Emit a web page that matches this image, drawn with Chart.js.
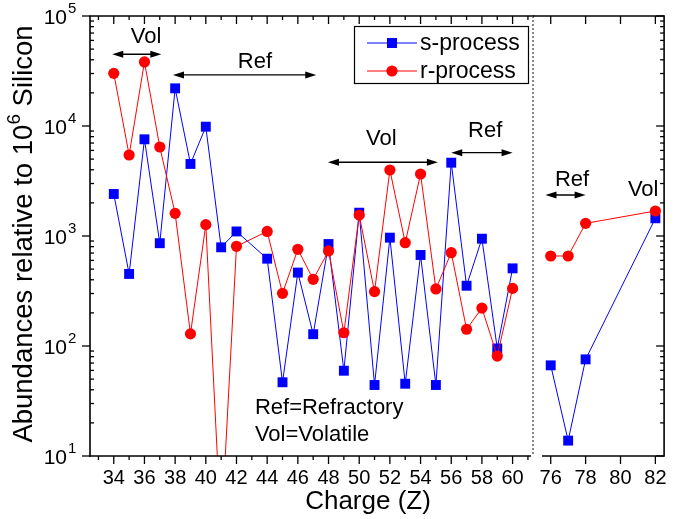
<!DOCTYPE html>
<html>
<head>
<meta charset="utf-8">
<script src="https://cdn.jsdelivr.net/npm/chart.js@4.4.0/dist/chart.umd.min.js"></script>
<style>
  body { margin: 0; background: #fff; }
  #wrap { position: relative; width: 677px; height: 519px; }
  #wrap canvas { position: absolute; left: 0; top: 0; }
</style>
</head>
<body>
<div id="wrap">
  <canvas id="left" width="677" height="519"></canvas>
  <canvas id="right" width="677" height="519"></canvas>
</div>
<script>
// charge numbers and abundances (relative to 10^6 Si)
const zLeft = [34, 35, 36, 37, 38, 39, 40, 41, 42, 44, 45, 46, 47, 48, 49, 50, 51, 52, 53, 54, 55, 56, 57, 58, 59, 60];
const sLeft = [2410, 452, 7570, 860, 22000, 4520, 9860, 789, 1100, 622, 46.8, 465, 128, 845, 59.6, 1629, 44.2, 966, 45.4, 672, 44.2, 4640, 353, 945, 95, 508];
const rLeft = [30100, 5450, 38200, 6440, 1607, 129, 1268, 2, 806, 1100, 301, 757, 404, 731, 132, 1552, 312, 3980, 869, 3660, 330, 705, 142, 221, 81, 334];

const zRight = [76, 77, 78, 82];
const sRight = [66.7, 13.8, 75.6, 1449];
const rRight = [658, 658, 1303, 1688];

const leftTicks = [34, 36, 38, 40, 42, 44, 46, 48, 50, 52, 54, 56, 58, 60];
const rightTicks = [76, 78, 80, 82];
const yDecades = [1, 2, 3, 4, 5];

const seriesNames = ['s-process', 'r-process'];

// Vol / Ref range markers (charge range and height in data units)
const leftArrows = [[33.9, 37.1, 44900], [37.86, 47.2, 29100], [47.96, 55.13, 4680], [56, 60, 5720]];
const leftLabels = [['Vol', 36.1, 64400], ['Ref', 43.2, 38200], ['Vol', 51.44, 7570], ['Ref', 58.21, 9060]];
const rightArrows = [[75.7, 78, 2360]];
const rightLabels = [['Ref', 77.22, 3230], ['Vol', 81.3, 2620]];

const FONT = '"Liberation Sans", Arial, sans-serif';
const BLUE = '#0000ff';
const RED = '#ff0000';

function pts(xs, ys) {
  return xs.map((x, i) => ({x: x, y: ys[i]}));
}

function datasets(xs, s, r) {
  return [
    {label: seriesNames[0], data: pts(xs, s), borderColor: BLUE, backgroundColor: BLUE,
     borderWidth: 1, pointStyle: 'rect', pointRadius: 7, pointBorderWidth: 0, order: 1},
    {label: seriesNames[1], data: pts(xs, r), borderColor: RED, backgroundColor: RED,
     borderWidth: 1, pointStyle: 'circle', pointRadius: 5.6, pointBorderWidth: 0, order: 0}
  ];
}

function arrow(ctx, x1, x2, y) {
  ctx.save();
  ctx.strokeStyle = '#000';
  ctx.fillStyle = '#000';
  ctx.lineWidth = 1.3;
  ctx.beginPath();
  ctx.moveTo(x1 + 4, y);
  ctx.lineTo(x2 - 4, y);
  ctx.stroke();
  [[x1, 1], [x2, -1]].forEach(([x, d]) => {
    ctx.beginPath();
    ctx.moveTo(x, y);
    ctx.lineTo(x + d * 11, y - 3.5);
    ctx.lineTo(x + d * 11, y + 3.5);
    ctx.closePath();
    ctx.fill();
  });
  ctx.restore();
}

function line(ctx, x1, y1, x2, y2) {
  ctx.beginPath();
  ctx.moveTo(x1, y1);
  ctx.lineTo(x2, y2);
  ctx.stroke();
}

function yMinor(yScale, cb) {
  yDecades.slice(0, -1).forEach(e => {
    for (let m = 2; m <= 9; m++) cb(yScale.getPixelForValue(m * Math.pow(10, e)));
  });
}

function notes(ctx, chart, arrows, labels) {
  const xs = chart.scales.x, ys = chart.scales.y;
  arrows.forEach(a => arrow(ctx, xs.getPixelForValue(a[0]), xs.getPixelForValue(a[1]), ys.getPixelForValue(a[2])));
  ctx.font = '22px ' + FONT;
  ctx.fillStyle = '#000';
  ctx.textAlign = 'center';
  ctx.textBaseline = 'middle';
  labels.forEach(l => ctx.fillText(l[0], xs.getPixelForValue(l[1]), ys.getPixelForValue(l[2])));
}

const leftFrame = {
  id: 'leftFrame',
  afterDraw(chart) {
    const ctx = chart.ctx, a = chart.chartArea;
    const xs = chart.scales.x, ys = chart.scales.y;
    ctx.save();
    ctx.strokeStyle = '#000';
    ctx.lineWidth = 1.6;
    line(ctx, a.left, a.top, a.left, a.bottom + 0.8);
    line(ctx, a.left - 0.8, a.bottom, a.right, a.bottom);
    line(ctx, a.left - 0.8, a.top, a.right + 3, a.top);
    ctx.lineWidth = 1.3;
    for (let z = 33; z <= 61; z++) {
      const x = xs.getPixelForValue(z);
      const len = z % 2 === 0 ? 8 : 4;
      line(ctx, x, a.bottom, x, a.bottom + len);
      line(ctx, x, a.top, x, a.top + len);
    }
    yDecades.forEach(e => {
      const y = ys.getPixelForValue(Math.pow(10, e));
      line(ctx, a.left - 8, y, a.left, y);
    });
    yMinor(ys, y => line(ctx, a.left, y, a.left + 4, y));

    // break between the two panels
    ctx.strokeStyle = '#555';
    ctx.lineWidth = 1.4;
    ctx.setLineDash([2, 2]);
    line(ctx, a.right + 2, a.top, a.right + 2, a.bottom);
    ctx.setLineDash([]);

    // y tick labels 10^n
    ctx.fillStyle = '#000';
    ctx.textBaseline = 'middle';
    yDecades.forEach(e => {
      const y = ys.getPixelForValue(Math.pow(10, e));
      ctx.font = '21px ' + FONT;
      ctx.textAlign = 'right';
      ctx.fillText('10', 67, y + 2);
      ctx.font = '15px ' + FONT;
      ctx.textAlign = 'left';
      ctx.fillText(String(e), 68, y - 7);
    });

    // axis titles
    ctx.font = '26px ' + FONT;
    ctx.textAlign = 'center';
    ctx.fillText('Charge (Z)', 368, 502);
    ctx.save();
    ctx.translate(24, (a.top + a.bottom) / 2 - 2);
    ctx.rotate(-Math.PI / 2);
    const p1 = 'Abundances relative to 10', p2 = '6', p3 = ' Silicon';
    ctx.font = '27.5px ' + FONT;
    const w1 = ctx.measureText(p1).width, w3 = ctx.measureText(p3).width;
    ctx.font = '19px ' + FONT;
    const w2 = ctx.measureText(p2).width;
    let x0 = -(w1 + w2 + w3) / 2;
    ctx.textAlign = 'left';
    ctx.font = '27.5px ' + FONT;
    ctx.fillText(p1, x0, 0);
    ctx.font = '19px ' + FONT;
    ctx.fillText(p2, x0 + w1, -9);
    ctx.font = '27.5px ' + FONT;
    ctx.fillText(p3, x0 + w1 + w2, 0);
    ctx.restore();

    // legend
    ctx.strokeStyle = '#000';
    ctx.lineWidth = 1.2;
    ctx.strokeRect(354.5, 26.5, 174, 57);
    const ds = chart.data.datasets;
    [43, 71].forEach((y, i) => {
      ctx.strokeStyle = ds[i].borderColor;
      ctx.lineWidth = 1;
      line(ctx, 367, y, 417, y);
      ctx.fillStyle = ds[i].backgroundColor;
      if (i === 0) {
        ctx.fillRect(387, y - 5, 10, 10);
      } else {
        ctx.beginPath();
        ctx.arc(392, y, 5.6, 0, Math.PI * 2);
        ctx.fill();
      }
      ctx.fillStyle = '#000';
      ctx.font = '23px ' + FONT;
      ctx.textAlign = 'left';
      ctx.fillText(ds[i].label, 420, y + 1);
    });

    notes(ctx, chart, leftArrows, leftLabels);
    ctx.font = '22px ' + FONT;
    ctx.textAlign = 'left';
    ctx.fillText('Ref=Refractory', xs.getPixelForValue(43.2), ys.getPixelForValue(27.3));
    ctx.fillText('Vol=Volatile', xs.getPixelForValue(43.2), ys.getPixelForValue(15.5));
    ctx.restore();
  }
};

const rightFrame = {
  id: 'rightFrame',
  afterDraw(chart) {
    const ctx = chart.ctx, a = chart.chartArea;
    const xs = chart.scales.x, ys = chart.scales.y;
    ctx.save();
    ctx.strokeStyle = '#000';
    ctx.lineWidth = 1.6;
    line(ctx, a.right, a.top - 0.8, a.right, a.bottom + 0.8);
    line(ctx, a.left, a.bottom, a.right, a.bottom);
    line(ctx, a.left - 9, a.top, a.right, a.top);
    ctx.lineWidth = 1.3;
    rightTicks.forEach(z => {
      const x = xs.getPixelForValue(z);
      line(ctx, x, a.bottom, x, a.bottom + 8);
      line(ctx, x, a.top, x, a.top + 8);
    });
    yDecades.forEach(e => {
      const y = ys.getPixelForValue(Math.pow(10, e));
      line(ctx, a.right - 8, y, a.right, y);
    });
    yMinor(ys, y => line(ctx, a.right - 4, y, a.right, y));
    notes(ctx, chart, rightArrows, rightLabels);
    ctx.restore();
  }
};

function xAxis(min, max, ticks) {
  return {
    type: 'linear', min: min, max: max,
    afterBuildTicks: s => { s.ticks = ticks.map(v => ({value: v})); },
    afterFit: s => { s.height = 63; },
    grid: {display: false, drawTicks: true, tickLength: 0},
    border: {display: false},
    ticks: {color: '#000', font: {family: FONT, size: 20}, padding: 10, maxRotation: 0, autoSkip: false}
  };
}

const yAxis = {type: 'logarithmic', min: 10, max: 100000, display: false};

function makeChart(id, xs, s, r, xScale, pad, plugin) {
  return new Chart(document.getElementById(id), {
    type: 'line',
    data: {datasets: datasets(xs, s, r)},
    options: {
      responsive: false,
      animation: false,
      devicePixelRatio: 1,
      layout: {padding: pad},
      scales: {x: xScale, y: yAxis},
      plugins: {legend: {display: false}, tooltip: {enabled: false}}
    },
    plugins: [plugin]
  });
}

makeChart('left', zLeft, sLeft, rLeft, xAxis(32.45, 61.2, leftTicks),
  {left: 90, right: 146, top: 16, bottom: 0}, leftFrame);
makeChart('right', zRight, sRight, rRight, xAxis(75.5, 82.5, rightTicks),
  {left: 542, right: 3, top: 16, bottom: 0}, rightFrame);
</script>
</body>
</html>
